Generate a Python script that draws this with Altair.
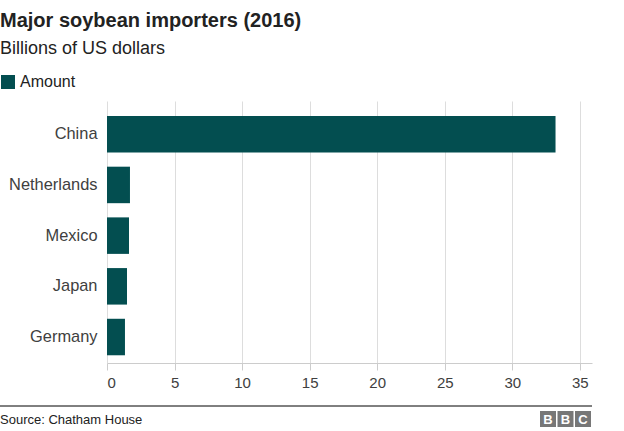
import altair as alt
import pandas as pd

countries = ["China", "Netherlands", "Mexico", "Japan", "Germany"]
amounts = [33.2, 1.7, 1.63, 1.48, 1.33]
series = ["Amount"] * len(countries)
x_ticks = [0, 5, 10, 15, 20, 25, 30, 35]

title_text = "Major soybean importers (2016)"
subtitle_text = "Billions of US dollars"
source_text = "Source: Chatham House"
logo_letters = ["B", "B", "C"]

BAR = "#034e50"
FONT = "Liberation Sans"

df = pd.DataFrame({"country": countries, "amount": amounts, "series": series})

W, H = 485, 262
LEFT, TOP = 107, 101

bars = alt.Chart(df).mark_bar().encode(
    y=alt.Y("country:N", sort=countries, title=None,
            scale=alt.Scale(paddingInner=0.28, paddingOuter=0.224, align=0.66),
            axis=alt.Axis(ticks=False, domain=False, labelFontSize=16.4,
                          labelColor="#404040", labelFont=FONT, labelPadding=10,
                          grid=False)),
    x=alt.X("amount:Q", title=None,
            scale=alt.Scale(domain=[0, 35.9], nice=False),
            axis=alt.Axis(values=x_ticks, grid=True, gridColor="#dddddd",
                          domainColor="#cccccc", tickColor="#cccccc", tickSize=7,
                          labelFontSize=15, labelColor="#404040", labelFont=FONT,
                          labelPadding=5, format="d")),
    color=alt.Color("series:N", title=None,
                    scale=alt.Scale(range=[BAR]),
                    legend=alt.Legend(orient="none", legendX=-LEFT, legendY=-27,
                                      symbolType="square", symbolSize=196,
                                      symbolStrokeWidth=0, labelFontSize=16,
                                      labelFont=FONT, labelColor="#222222",
                                      labelOffset=4)),
)

blank = alt.Data(values=[{}])

rule = alt.Chart(blank).mark_rule(color="#000000", strokeWidth=1).encode(
    x=alt.value(-LEFT), x2=alt.value(592 - LEFT), y=alt.value(406 - TOP)
)

source = alt.Chart(blank).mark_text(
    text=source_text, align="left", baseline="alphabetic", fontSize=13,
    font=FONT, color="#222222"
).encode(x=alt.value(-LEFT), y=alt.value(424 - TOP))

layers = [bars, rule, source]
for i, letter in enumerate(logo_letters):
    x0 = 540 - LEFT + i * 17.5
    layers.append(alt.Chart(blank).mark_rect(color="#777777").encode(
        x=alt.value(x0), x2=alt.value(x0 + 16),
        y=alt.value(411 - TOP), y2=alt.value(427 - TOP)))
    layers.append(alt.Chart(blank).mark_text(
        text=letter, align="center", baseline="alphabetic", fontSize=13,
        fontWeight="bold", font=FONT, color="#ffffff"
    ).encode(x=alt.value(x0 + 8), y=alt.value(424 - TOP)))

chart = alt.layer(*layers).properties(
    width=W, height=H,
    autosize=alt.AutoSizeParams(type="none"),
    padding={"left": LEFT, "top": TOP, "right": 624 - LEFT - W, "bottom": 431 - TOP - H},
    title=alt.TitleParams(title_text, subtitle=subtitle_text, anchor="start",
                          frame="group", dx=-LEFT, offset=16,
                          font=FONT, fontSize=20, fontWeight="bold", color="#222222",
                          subtitleFont=FONT, subtitleFontSize=18,
                          subtitleColor="#222222", subtitlePadding=9),
).configure_view(stroke=None)

chart.save("out.html", embed_options={"renderer": "svg", "actions": False})
